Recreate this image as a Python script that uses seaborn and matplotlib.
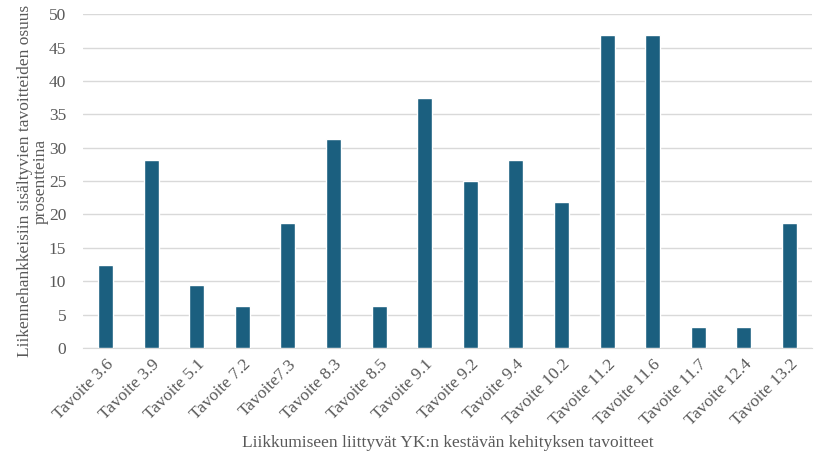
import matplotlib.pyplot as plt
import seaborn as sns
import pandas as pd

tavoitteet = ['Tavoite 3.6', 'Tavoite 3.9', 'Tavoite 5.1', 'Tavoite 7.2', 'Tavoite7.3',
              'Tavoite 8.3', 'Tavoite 8.5', 'Tavoite 9.1', 'Tavoite 9.2', 'Tavoite 9.4',
              'Tavoite 10.2', 'Tavoite 11.2', 'Tavoite 11.6', 'Tavoite 11.7', 'Tavoite 12.4',
              'Tavoite 13.2']
osuus = [12.5, 28.1, 9.4, 6.25, 18.75, 31.25, 6.25, 37.5, 25.0, 28.1,
         21.9, 46.9, 46.9, 3.1, 3.1, 18.75]

sns.set_style('white')
plt.rcParams['font.family'] = ['Liberation Serif', 'DejaVu Serif']
grey = '#595959'

df = pd.DataFrame({'tavoite': tavoitteet, 'osuus': osuus})

fig, ax = plt.subplots(figsize=(8.28, 4.55), dpi=100)
fig.subplots_adjust(left=.100, right=.981, top=.969, bottom=.235)

sns.barplot(data=df, x='tavoite', y='osuus', color='#1b5f7f', width=0.33,
            saturation=1, ax=ax, zorder=3)

ax.set_ylim(0, 50)
ax.set_yticks(range(0, 51, 5))
ax.yaxis.grid(True, color='#d9d9d9', linewidth=1, zorder=0)
ax.set_xlim(-0.5, len(tavoitteet) - 0.5)
for s in ['top', 'right', 'left']:
    ax.spines[s].set_visible(False)
ax.spines['bottom'].set_color('#d9d9d9')
ax.tick_params(axis='y', length=0, labelsize=12.5, colors=grey, pad=12)
ax.tick_params(axis='x', length=0, labelsize=12.5, colors=grey, pad=6)
plt.setp(ax.get_xticklabels(), rotation=45, ha='right', rotation_mode='anchor')

ax.set_xlabel('Liikkumiseen liittyvät YK:n kestävän kehityksen tavoitteet',
              fontsize=12.5, color=grey, labelpad=4)
ax.set_ylabel('Liikennehankkeisiin sisältyvien tavoitteiden osuus\nprosentteina',
              fontsize=12.5, color=grey, linespacing=1.0, labelpad=0)

fig.savefig('out.png', dpi=100)
